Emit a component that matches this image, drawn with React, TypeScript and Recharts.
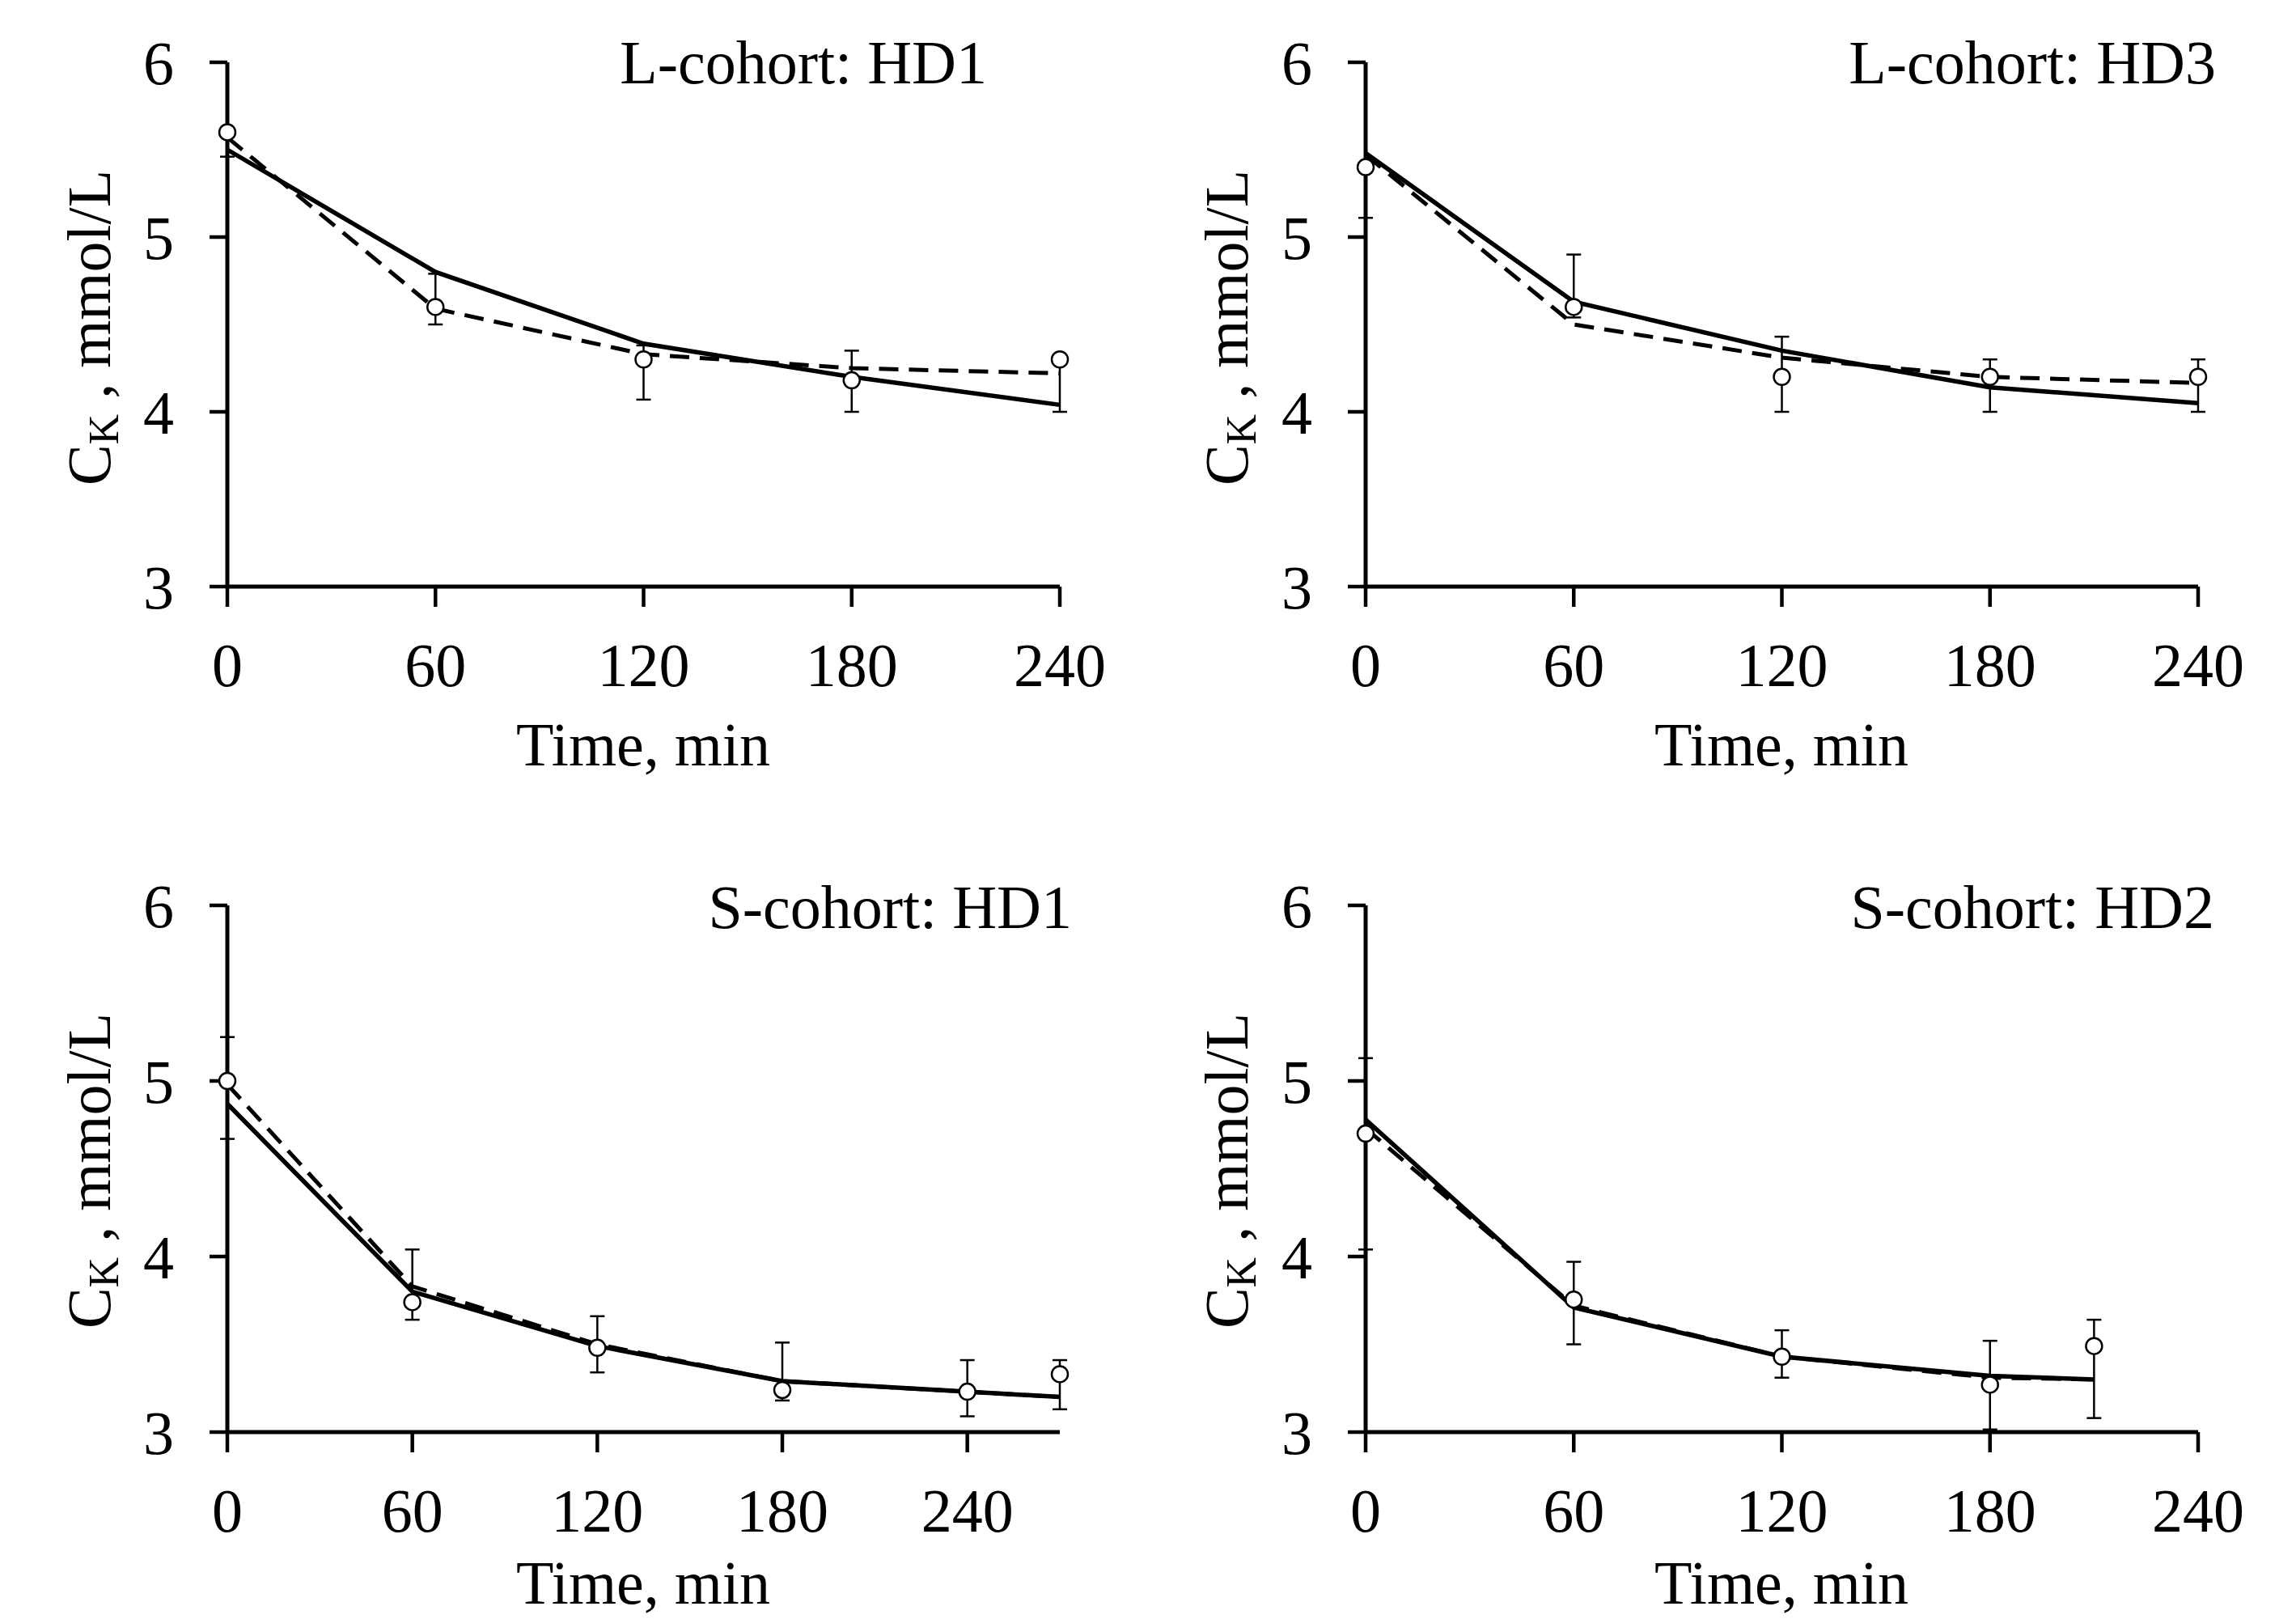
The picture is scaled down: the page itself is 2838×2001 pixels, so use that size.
import { LineChart, Line, XAxis, YAxis, ErrorBar } from 'recharts'

const FONT = '"Liberation Serif", "Times New Roman", serif'

// shared axis ticks
const timeTicks = [0, 60, 120, 180, 240]
const concTicks = [3, 4, 5, 6]

// L-cohort: HD1
const lHd1Time = [0, 60, 120, 180, 240]
const lHd1Obs = [5.6, 4.6, 4.3, 4.18, 4.3]
const lHd1ErrLow = [0.14, 0.1, 0.23, 0.18, 0.3]
const lHd1ErrHigh = [0, 0.19, 0.08, 0.17, 0]
const lHd1Solid = [5.5, 4.8, 4.39, 4.2, 4.04]
const lHd1Dashed = [5.57, 4.59, 4.33, 4.25, 4.22]

// L-cohort: HD3
const lHd3Time = [0, 60, 120, 180, 240]
const lHd3Obs = [5.4, 4.6, 4.2, 4.2, 4.2]
const lHd3ErrLow = [0.29, 0.06, 0.2, 0.2, 0.2]
const lHd3ErrHigh = [0, 0.3, 0.23, 0.1, 0.1]
const lHd3Solid = [5.48, 4.63, 4.35, 4.14, 4.05]
const lHd3Dashed = [5.47, 4.5, 4.31, 4.2, 4.165]

// S-cohort: HD1
const sHd1Time = [0, 60, 120, 180, 240, 270]
const sHd1Obs = [5.0, 3.74, 3.48, 3.24, 3.23, 3.33]
const sHd1ErrLow = [0.33, 0.1, 0.14, 0.06, 0.14, 0.2]
const sHd1ErrHigh = [0.25, 0.3, 0.18, 0.27, 0.18, 0.08]
const sHd1Solid = [4.87, 3.8, 3.49, 3.29, 3.23, 3.2]
const sHd1Dashed = [4.98, 3.83, 3.5, 3.29, 3.23, 3.2]

// S-cohort: HD2
const sHd2Time = [0, 60, 120, 180, 210]
const sHd2Obs = [4.7, 3.755, 3.43, 3.27, 3.49]
const sHd2ErrLow = [0.66, 0.255, 0.12, 0.255, 0.41]
const sHd2ErrHigh = [0.43, 0.215, 0.15, 0.25, 0.15]
const sHd2Solid = [4.78, 3.71, 3.43, 3.32, 3.3]
const sHd2Dashed = [4.73, 3.72, 3.43, 3.31, 3.3]

type Row = { t: number; obs: number; err: [number, number]; solid: number; dashed: number }

const buildRows = (
  time: number[],
  obs: number[],
  low: number[],
  high: number[],
  solid: number[],
  dashed: number[]
): Row[] =>
  time.map((t, i) => ({ t, obs: obs[i], err: [low[i], high[i]], solid: solid[i], dashed: dashed[i] }))

const panels = [
  {
    title: 'L-cohort: HD1',
    rows: buildRows(lHd1Time, lHd1Obs, lHd1ErrLow, lHd1ErrHigh, lHd1Solid, lHd1Dashed),
    xMax: 240,
    left: 0, top: 0, width: 1419, height: 1000,
    margin: { top: 77, right: 109, bottom: 125, left: 81 },
    titlePos: [1220, 103], xLabelPos: [795, 946], yLabelPos: [136, 405],
  },
  {
    title: 'L-cohort: HD3',
    rows: buildRows(lHd3Time, lHd3Obs, lHd3ErrLow, lHd3ErrHigh, lHd3Solid, lHd3Dashed),
    xMax: 240,
    left: 1419, top: 0, width: 1419, height: 1000,
    margin: { top: 77, right: 121, bottom: 125, left: 69 },
    titlePos: [2739, 103], xLabelPos: [2202, 946], yLabelPos: [1542, 405],
  },
  {
    title: 'S-cohort: HD1',
    rows: buildRows(sHd1Time, sHd1Obs, sHd1ErrLow, sHd1ErrHigh, sHd1Solid, sHd1Dashed),
    xMax: 270,
    left: 0, top: 1000, width: 1419, height: 1001,
    margin: { top: 119, right: 109, bottom: 81, left: 81 },
    titlePos: [1325, 1147], xLabelPos: [795, 1982], yLabelPos: [136, 1447],
  },
  {
    title: 'S-cohort: HD2',
    rows: buildRows(sHd2Time, sHd2Obs, sHd2ErrLow, sHd2ErrHigh, sHd2Solid, sHd2Dashed),
    xMax: 240,
    left: 1419, top: 1000, width: 1419, height: 1001,
    margin: { top: 119, right: 121, bottom: 81, left: 69 },
    titlePos: [2737, 1147], xLabelPos: [2202, 1982], yLabelPos: [1542, 1447],
  },
]

const tickStyle = { fill: '#000', fontSize: 76, fontFamily: FONT }

function Panel({ p }: { p: (typeof panels)[number] }) {
  return (
    <div style={{ position: 'absolute', left: p.left, top: p.top }}>
      <LineChart width={p.width} height={p.height} data={p.rows} margin={p.margin}>
        <XAxis
          dataKey="t"
          type="number"
          domain={[0, p.xMax]}
          ticks={timeTicks}
          interval={0}
          height={150}
          tickSize={25}
          tickMargin={44}
          axisLine={{ stroke: '#000', strokeWidth: 5 }}
          tickLine={{ stroke: '#000', strokeWidth: 4.5 }}
          tick={tickStyle}
        />
        <YAxis
          type="number"
          domain={[3, 6]}
          ticks={concTicks}
          interval={0}
          width={200}
          tickSize={22}
          tickMargin={44}
          axisLine={{ stroke: '#000', strokeWidth: 5 }}
          tickLine={{ stroke: '#000', strokeWidth: 4.5 }}
          tick={tickStyle}
        />
        <Line
          dataKey="solid"
          type="linear"
          stroke="#000"
          strokeWidth={5.5}
          dot={false}
          activeDot={false}
          isAnimationActive={false}
        />
        <Line
          dataKey="dashed"
          type="linear"
          stroke="#000"
          strokeWidth={5}
          strokeDasharray="24 13"
          dot={false}
          activeDot={false}
          isAnimationActive={false}
        />
        <Line
          dataKey="obs"
          type="linear"
          stroke="none"
          dot={{ r: 10, fill: '#fff', stroke: '#000', strokeWidth: 2.5 }}
          activeDot={false}
          isAnimationActive={false}
        >
          <ErrorBar dataKey="err" direction="y" width={9} stroke="#000" strokeWidth={2.5} isAnimationActive={false} />
        </Line>
      </LineChart>
    </div>
  )
}

export default function App() {
  return (
    <div
      style={{
        position: 'absolute',
        left: 0,
        top: 0,
        width: 2838,
        height: 2001,
        background: '#fff',
        overflow: 'hidden',
      }}
    >
      {panels.map((p) => (
        <Panel key={p.title} p={p} />
      ))}
      {/* titles and axis labels */}
      <svg
        width={2838}
        height={2001}
        style={{ position: 'absolute', left: 0, top: 0, pointerEvents: 'none' }}
        fontFamily={FONT}
        fontSize={76}
        fill="#000"
      >
        {panels.map((p) => (
          <g key={p.title}>
            <text x={p.titlePos[0]} y={p.titlePos[1]} textAnchor="end">
              {p.title}
            </text>
            <text x={p.xLabelPos[0]} y={p.xLabelPos[1]} textAnchor="middle">
              Time, min
            </text>
            <text
              transform={`translate(${p.yLabelPos[0]}, ${p.yLabelPos[1]}) rotate(-90)`}
              textAnchor="middle"
            >
              <tspan>C</tspan>
              <tspan fontSize={52} dy={10}>K</tspan>
              <tspan dy={-10}> , mmol/L</tspan>
            </text>
          </g>
        ))}
      </svg>
    </div>
  )
}
